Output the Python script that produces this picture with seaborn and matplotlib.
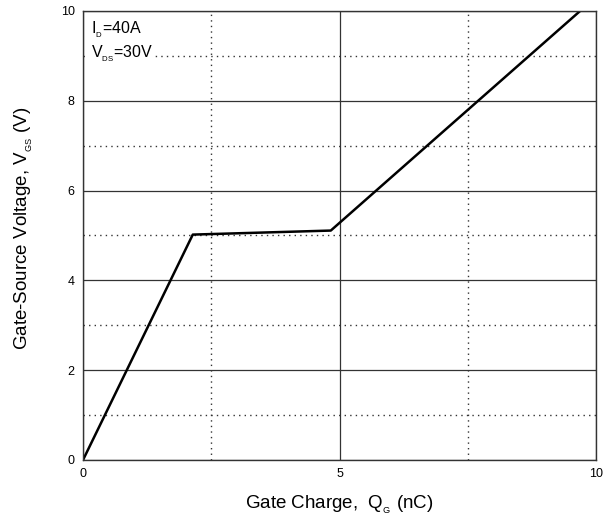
import matplotlib
matplotlib.use("Agg")
import matplotlib.pyplot as plt
import seaborn as sns
import pandas as pd

# Data
qg_nc = [0.0, 2.14, 4.83, 9.69]
vgs_v = [0.0, 5.02, 5.11, 10.0]
x_ticks = [0, 5, 10]
y_ticks = [0, 2, 4, 6, 8, 10]
x_minor = [2.5, 7.5]
y_minor = [1, 3, 5, 7, 9]

sns.set_theme(style="white")
plt.rcParams['font.family'] = ['Liberation Sans', 'DejaVu Sans']
plt.rcParams['mathtext.fontset'] = 'custom'
plt.rcParams['mathtext.rm'] = 'Liberation Sans'
plt.rcParams['mathtext.it'] = 'Liberation Sans'
plt.rcParams['text.color'] = 'black'
plt.rcParams['axes.labelcolor'] = 'black'

df = pd.DataFrame({"Qg": qg_nc, "Vgs": vgs_v})

fig = plt.figure(figsize=(6.16, 5.2), dpi=100)
ax = fig.add_axes([83/616, 1-460/520, (596-83)/616, (460-11)/520])

sns.lineplot(data=df, x="Qg", y="Vgs", ax=ax, color="black", linewidth=1.8, zorder=5)

ax.set_xlim(0, 10)
ax.set_ylim(0, 10)
ax.set_xticks(x_ticks)
ax.set_yticks(y_ticks)
ax.set_xticks(x_minor, minor=True)
ax.set_yticks(y_minor, minor=True)
ax.grid(which="major", color="#333333", linewidth=0.9, linestyle="-")
ax.grid(which="minor", color="#333333", linewidth=1.0, linestyle=(0, (1, 3)))
ax.tick_params(which="both", length=0, labelsize=9, colors="black", pad=6)
for s in ax.spines.values():
    s.set_color("#333333")
    s.set_linewidth(1.0)
    s.set_zorder(6)

ax.set_xlabel(r"Gate Charge,  Q$_{{}_{\mathrm{G}}}$ (nC)", fontsize=13.5)
ax.set_ylabel(r"Gate-Source Voltage, V$_{{}_{\mathrm{GS}}}$ (V)", fontsize=13.5)
ax.xaxis.set_label_coords(0.5, -0.075)
ax.yaxis.set_label_coords(-0.094, 0.517)

ax.text(0.15, 9.58, r"I$_{{}_{\mathrm{D}}}$=40A", fontsize=11.5, va="center", ha="left",
        bbox=dict(facecolor="white", edgecolor="none", pad=1), zorder=7)
ax.text(0.15, 9.05, r"V$_{{}_{\mathrm{DS}}}$=30V", fontsize=11.5, va="center", ha="left",
        bbox=dict(facecolor="white", edgecolor="none", pad=1), zorder=7)

fig.savefig("out.png", dpi=100)
